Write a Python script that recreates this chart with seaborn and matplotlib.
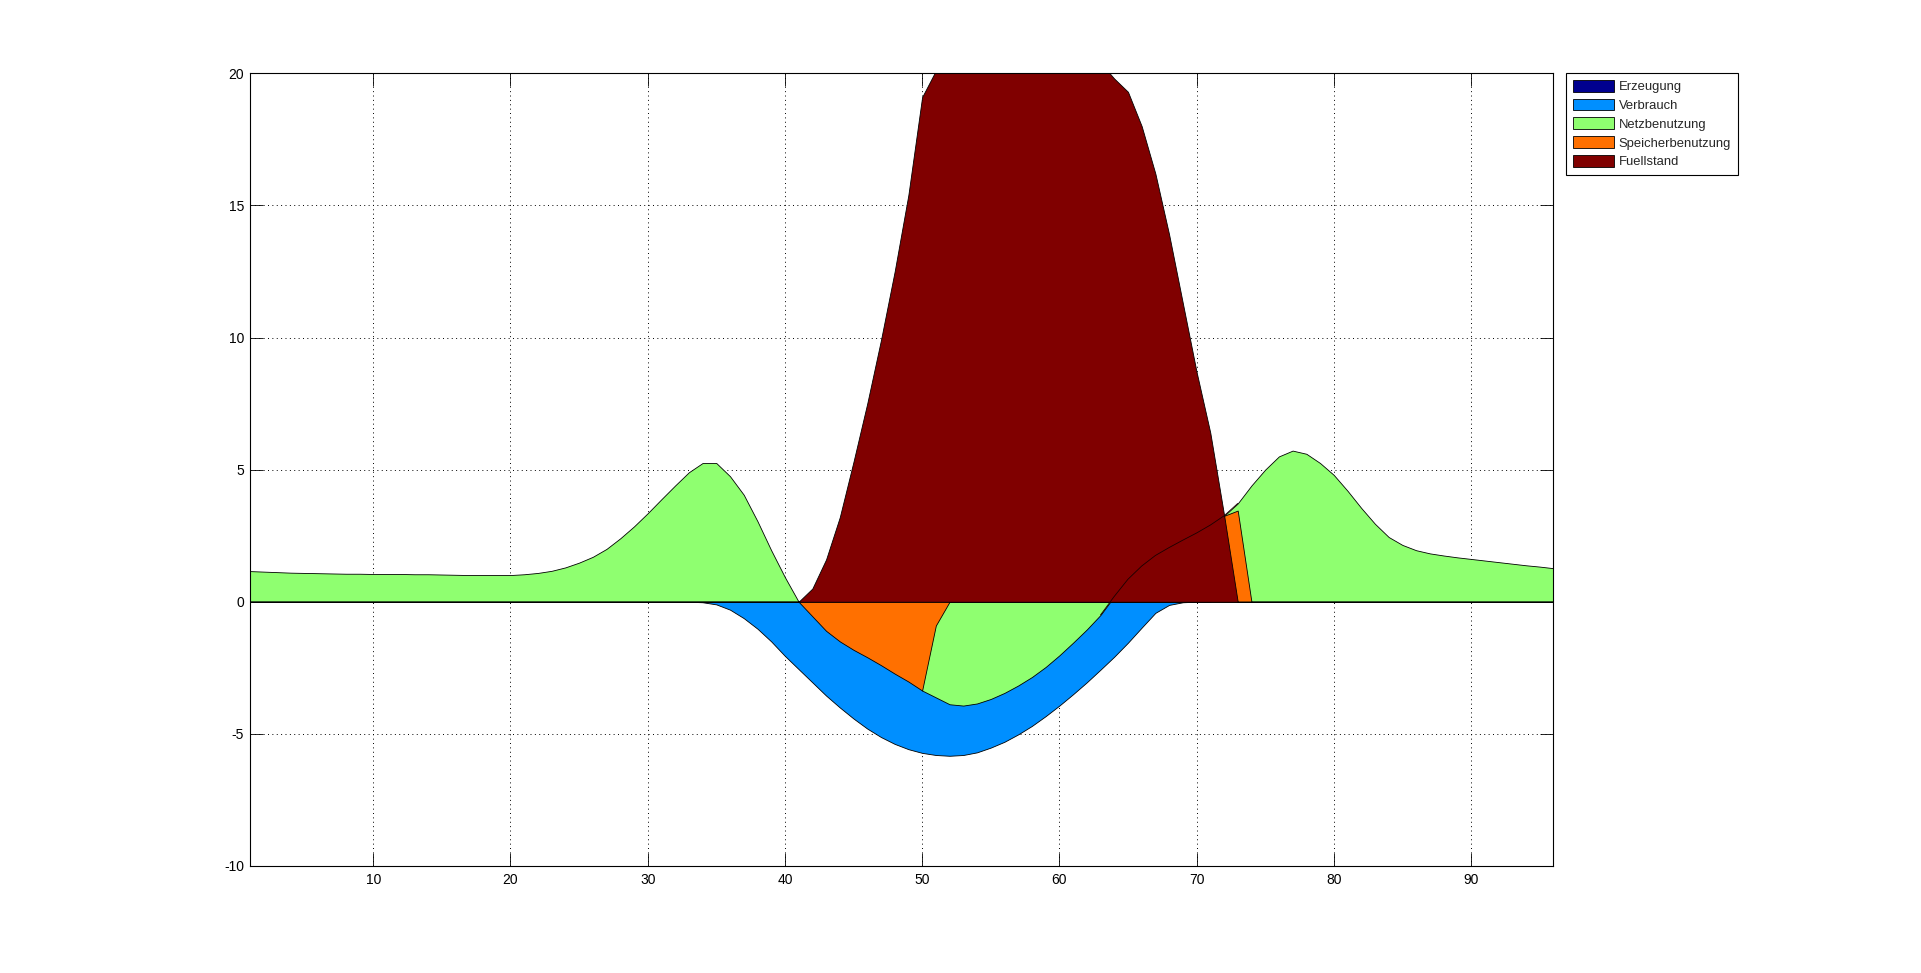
import numpy as np
import pandas as pd
import matplotlib
matplotlib.use("Agg")
import matplotlib.pyplot as plt
import seaborn as sns

# ---------------- data (15-minute steps over one day) ----------------
x = list(range(1, 97))

erzeugung = [
    0, 0, 0, 0, 0, 0, 0, 0, 0, 0, 0, 0,
    0, 0, 0, 0, 0, 0, 0, 0, 0, 0, 0, 0,
    0, 0, 0, 0, 0, 0, 0, 0, 0, 0, 0, 0,
    0, 0, 0, 0, 0, 0, 0, 0, 0, 0, 0, 0,
    0, 0, 0, 0, 0, 0, 0, 0, 0, 0, 0, 0,
    0, 0, 0, 0, 0, 0, 0, 0, 0, 0, 0, 0,
    0, 0, 0, 0, 0, 0, 0, 0, 0, 0, 0, 0,
    0, 0, 0, 0, 0, 0, 0, 0, 0, 0, 0, 0,
]

verbrauch = [
    0, 0, 0, 0, 0, 0, 0, 0, 0, 0, 0, 0,
    0, 0, 0, 0, 0, 0, 0, 0, 0, 0, 0, 0,
    0, 0, 0, 0, 0, 0, 0, 0, 0, -0.02, -0.10, -0.30,
    -0.62, -1.02, -1.50, -2.05, -2.55, -3.05, -3.55, -4.00, -4.42, -4.80, -5.12, -5.38,
    -5.58, -5.72, -5.80, -5.83, -5.80, -5.70, -5.52, -5.30, -5.02, -4.70, -4.33, -3.93,
    -3.50, -3.05, -2.57, -2.08, -1.55, -0.98, -0.42, -0.12, -0.02, 0, 0, 0,
    0, 0, 0, 0, 0, 0, 0, 0, 0, 0, 0, 0,
    0, 0, 0, 0, 0, 0, 0, 0, 0, 0, 0, 0,
]

netzbenutzung = [
    1.16, 1.14, 1.12, 1.10, 1.09, 1.08, 1.07, 1.06, 1.06, 1.05, 1.05, 1.05,
    1.04, 1.04, 1.03, 1.02, 1.01, 1.01, 1.01, 1.01, 1.04, 1.09, 1.17, 1.30,
    1.48, 1.70, 2.00, 2.40, 2.85, 3.35, 3.88, 4.40, 4.90, 5.25, 5.25, 4.75,
    4.05, 3.05, 1.95, 0.93, 0, 0, 0, 0, 0, 0, 0, 0,
    0, -3.36, -3.62, -3.88, -3.93, -3.85, -3.68, -3.45, -3.17, -2.85, -2.47, -2.03,
    -1.55, -1.05, -0.50, 0.20, 0.85, 1.35, 1.75, 2.05, 2.33, 2.60, 2.90, 3.25,
    3.72, 4.40, 5.00, 5.50, 5.72, 5.60, 5.25, 4.80, 4.20, 3.55, 2.95, 2.45,
    2.15, 1.95, 1.83, 1.75, 1.68, 1.62, 1.56, 1.50, 1.44, 1.38, 1.33, 1.27,
]

speicherbenutzung = [
    0, 0, 0, 0, 0, 0, 0, 0, 0, 0, 0, 0,
    0, 0, 0, 0, 0, 0, 0, 0, 0, 0, 0, 0,
    0, 0, 0, 0, 0, 0, 0, 0, 0, 0, 0, 0,
    0, 0, 0, 0, 0, -0.55, -1.10, -1.50, -1.82, -2.10, -2.40, -2.72,
    -3.02, -3.36, -0.90, 0, 0, 0, 0, 0, 0, 0, 0, 0,
    0, 0, 0, 0, 0, 0, 0, 0, 0, 0, 0, 3.25,
    3.45, 0, 0, 0, 0, 0, 0, 0, 0, 0, 0, 0,
    0, 0, 0, 0, 0, 0, 0, 0, 0, 0, 0, 0,
]

fuellstand = [
    0, 0, 0, 0, 0, 0, 0, 0, 0, 0, 0, 0,
    0, 0, 0, 0, 0, 0, 0, 0, 0, 0, 0, 0,
    0, 0, 0, 0, 0, 0, 0, 0, 0, 0, 0, 0,
    0, 0, 0, 0, 0, 0.5, 1.6, 3.2, 5.3, 7.5, 9.9, 12.5,
    15.4, 19.1, 20.1, 21.0, 21.8, 22.4, 22.9, 23.2, 23.3, 23.2, 22.9, 22.4,
    21.8, 21.1, 20.4, 19.8, 19.3, 18.0, 16.2, 13.9, 11.3, 8.7, 6.4, 3.3,
    0, 0, 0, 0, 0, 0, 0, 0, 0, 0, 0, 0,
    0, 0, 0, 0, 0, 0, 0, 0, 0, 0, 0, 0,
]

labels = ["Erzeugung", "Verbrauch", "Netzbenutzung", "Speicherbenutzung", "Fuellstand"]
colors = ["#00008F", "#008FFF", "#8FFF70", "#FF7000", "#800000"]
x_ticks = [10, 20, 30, 40, 50, 60, 70, 80, 90]
y_ticks = [-10, -5, 0, 5, 10, 15, 20]

# span where the Netzbenutzung outline shows through the Fuellstand area
outline_start, outline_end = 63, 73

# ---------------- styling ----------------
sns.set_style("white", {"axes.edgecolor": "black"})
plt.rcParams["font.family"] = ["Liberation Sans", "DejaVu Sans"]
plt.rcParams["axes.unicode_minus"] = False

fig = plt.figure(figsize=(19.21, 9.73), dpi=100)
fig.patch.set_facecolor("white")
ax = fig.add_axes([0.130, 0.110, 0.6786, 0.8147])

df = pd.DataFrame({"x": x, "Erzeugung": erzeugung, "Verbrauch": verbrauch,
                   "Netzbenutzung": netzbenutzung,
                   "Speicherbenutzung": speicherbenutzung,
                   "Fuellstand": fuellstand})

handles = []
for i, (lab, col) in enumerate(zip(labels, colors)):
    h = ax.fill_between(df["x"], 0, df[lab], facecolor=col, edgecolor="black",
                        linewidth=0.6, zorder=2 + i, label=lab)
    handles.append(h)

seg = df[(df["x"] >= outline_start) & (df["x"] <= outline_end)]
sns.lineplot(data=seg, x="x", y="Netzbenutzung", ax=ax, color="#1a0000",
             linewidth=0.6, zorder=8, legend=False)

ax.set_xlim(1, 96)
ax.set_ylim(-10, 20)
ax.set_xticks(x_ticks)
ax.set_yticks(y_ticks)
ax.set_xlabel("")
ax.set_ylabel("")
ax.set_axisbelow(True)
ax.grid(True, color="black", linestyle=(0, (1, 3.5)), linewidth=0.7)
ax.tick_params(axis="both", direction="in", length=9.5, width=0.6,
               top=True, right=True, bottom=True, left=True,
               labelsize=10, colors="black")
ax.tick_params(axis="x", pad=5)
ax.tick_params(axis="y", pad=4)
for s in ax.spines.values():
    s.set_linewidth(0.8)
    s.set_color("black")
    s.set_zorder(10)

leg = fig.legend(handles, labels, loc="upper left",
                 bbox_to_anchor=(1566 / 1921, 1 - 73.3 / 973),
                 bbox_transform=fig.transFigure, borderaxespad=0,
                 frameon=True, fancybox=False, edgecolor="black", framealpha=1,
                 fontsize=9.4, handlelength=3.2, handleheight=1.0,
                 handletextpad=0.35, labelspacing=0.42, borderpad=0.5)
leg.get_frame().set_linewidth(0.8)

fig.savefig("out.png", dpi=100, facecolor="white")
